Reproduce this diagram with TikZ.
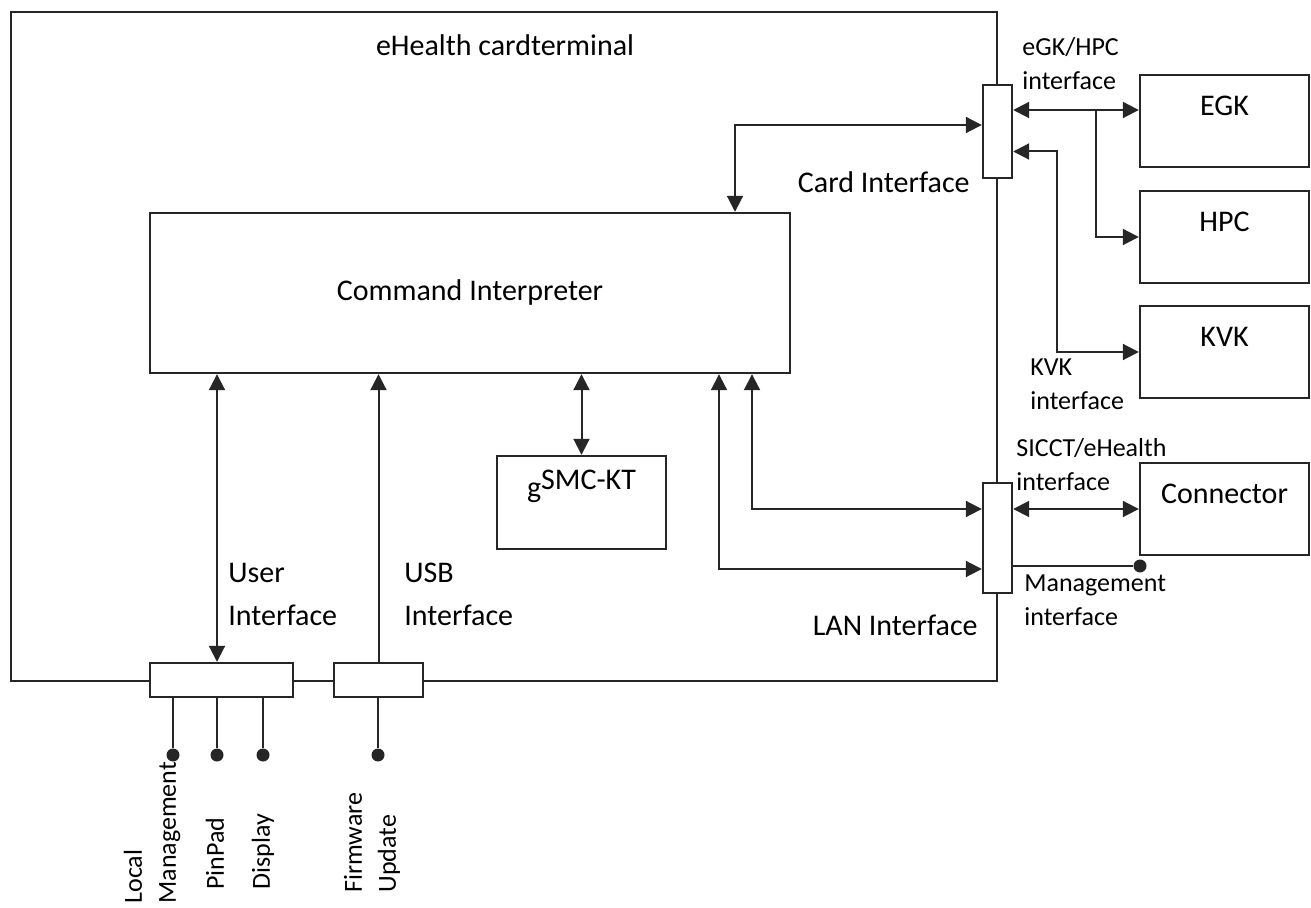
\documentclass[tikz,border=0pt]{standalone}
\usepackage{fontspec}
\setmainfont{Carlito}
\usetikzlibrary{arrows.meta,calc,positioning}

\tikzset{
  blk/.style={draw=black!85, line width=1.2pt, fill=white, inner sep=0pt, font=\fontsize{15}{18}\selectfont},
  port/.style={blk, minimum width=14.5pt},
  dev/.style={blk, minimum width=84.5pt, minimum height=46pt},
  devtext/.style={anchor=center, yshift=-16pt, inner sep=0pt, font=\fontsize{15}{18}\selectfont},
  lbl/.style={align=left, inner sep=0pt, font=\fontsize{15}{21.5}\selectfont},
  small/.style={align=left, inner sep=0pt, font=\fontsize{13}{17}\selectfont},
  vlbl/.style={small, rotate=90, anchor=west},
  dot/.style={circle, fill=black!85, inner sep=0pt, minimum size=6.5pt},
  wire/.style={draw=black!85, line width=1pt},
}

\begin{document}
\begin{tikzpicture}[x=0.5pt, y=-0.5pt, >={Triangle[length=8pt,width=8pt]}]
\useasboundingbox (0,0) rectangle (1311,908);
% frame of the terminal
\node[blk, minimum width=493pt, minimum height=334.5pt] (kt) at (504,346.5) {};
\node[lbl] (title) at (505,45) {eHealth cardterminal};

% blocks
\node[blk, minimum width=320pt, minimum height=80pt] (ci) at (470,293) {Command Interpreter};
\node[dev, minimum height=46.5pt, label={[devtext]north:{g\raisebox{4pt}{SMC-KT}}}] (gsmc) at (581.5,502.5) {};
\node[dev, label={[devtext]north:EGK}] (egk) at (1224.5,121) {};
\node[dev, label={[devtext]north:HPC}] (hpc) at (1224.5,237) {};
\node[dev, label={[devtext]north:KVK}] (kvk) at (1224.5,352) {};
\node[dev, label={[devtext]north:Connector}] (conn) at (1224.5,509) {};

% interfaces on the frame
\node[port, minimum height=46.5pt] (card) at (997.5,131.5) {};
\node[port, minimum height=55pt] (lan) at (997.5,538) {};
\node[port, minimum width=71.5pt, minimum height=17pt] (ui) at (221.5,680) {};
\node[port, minimum width=44.5pt, minimum height=17pt] (usb) at (378.5,680) {};

\coordinate (cardx) at (735,0);
\coordinate (lanx) at (752,0);
\coordinate (mgmtx) at (719,0);
\coordinate (uix) at (217,0);
\coordinate (split) at (1096,110);
\coordinate (egkpin) at ($(egk.west)+(0,-11)$);

% card side
\draw[wire,<->] (cardx |- ci.north) |- ([yshift=3.25pt]card.west);
\draw[wire,<->] (card.east |- egkpin) -- (egkpin);
\draw[wire,->] (split) |- (hpc.west);
\draw[wire,<->] ([yshift=-10pt]card.east) -- ++(44,0) |- (kvk.west);

% LAN side
\draw[wire,<->] (lan.east |- conn.west) -- (conn.west);
\draw[wire,<->] (lanx |- ci.south) |- (lan.west |- conn.west);
\draw[wire,<->] (mgmtx |- ci.south) |- ([yshift=-15.5pt]lan.west);
\node[dot] (mgmt) at (1140,566) {};
\draw[wire] (lan.east |- mgmt) -- (mgmt);

% inner links
\draw[wire,<->] (gsmc.north) -- (gsmc.north |- ci.south);
\draw[wire,<->] (uix |- ui.north) -- (uix |- ci.south);
\draw[wire,->] (usb.north) -- (usb.north |- ci.south);

% local ports below
\foreach \x/\n in {173/lm, 217/pin, 263/disp, 378/fw}
  \node[dot] (\n) at (\x,755) {};
\foreach \n in {lm,pin,disp}
  \draw[wire] (\n) -- (\n |- ui.south);
\draw[wire] (fw) -- (fw |- usb.south);

\node[vlbl] (lmlbl) at (152,904) {Local\\Management};
\node[vlbl] (pinlbl) at (215,890) {PinPad};
\node[vlbl] (displbl) at (263,890) {Display};
\node[vlbl] (fwlbl) at (372,893) {Firmware\\Update};

% labels
\node[lbl, anchor=west] (uilbl) at (228,594.5) {User\\Interface};
\node[lbl, anchor=west] (usblbl) at (404,594.5) {USB\\Interface};
\node[lbl, anchor=east] (cardlbl) at (970,182) {Card Interface};
\node[lbl, anchor=east] (lanlbl) at (978,625) {LAN Interface};
\node[small, anchor=west] (egklbl) at (1022,63.5) {eGK/HPC\\interface};
\node[small, anchor=west] (kvklbl) at (1030,384.5) {KVK\\interface};
\node[small, anchor=west] (sicctlbl) at (1016,464.5) {SICCT/eHealth\\interface};
\node[small, anchor=west] (mgmtlbl) at (1024,600.5) {Management\\interface};
\end{tikzpicture}
\end{document}
